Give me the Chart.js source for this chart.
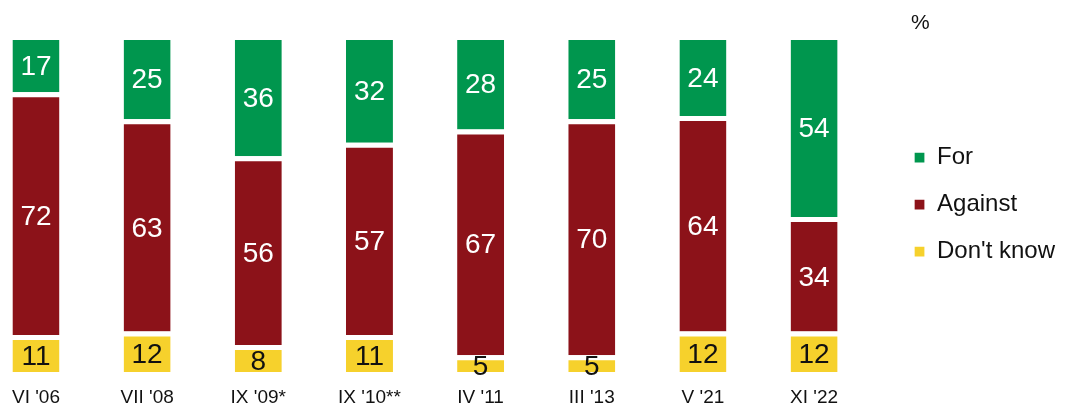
<!DOCTYPE html>
<html>
<head>
<meta charset="utf-8">
<script src="https://cdn.jsdelivr.net/npm/chart.js@4.4.1/dist/chart.umd.min.js"></script>
<style>
  body { margin: 0; background: #fff; }
  #wrap { position: relative; width: 1065px; height: 409px; }
</style>
</head>
<body>
<div id="wrap"><canvas id="chart"></canvas></div>
<script>
const categories = ["VI '06", "VII '08", "IX '09*", "IX '10**", "IV '11", "III '13", "V '21", "XI '22"];
const forValues = [17, 25, 36, 32, 28, 25, 24, 54];
const againstValues = [72, 63, 56, 57, 67, 70, 64, 34];
const dontKnowValues = [11, 12, 8, 11, 5, 5, 12, 12];

const FONT = "'Liberation Sans', Arial, sans-serif";
const toPoints = arr => arr.map((v, i) => ({ x: i, y: v }));

// value labels inside each segment, plus the "%" note
const barLabels = {
  id: 'barLabels',
  afterDatasetsDraw(chart) {
    const ctx = chart.ctx;
    ctx.save();
    ctx.font = '28px ' + FONT;
    ctx.textAlign = 'center';
    ctx.textBaseline = 'middle';
    chart.data.datasets.forEach((ds, i) => {
      const meta = chart.getDatasetMeta(i);
      meta.data.forEach((el, j) => {
        const yMid = (el.y + 5 + el.base) / 2;
        ctx.fillStyle = ds.labelColor;
        ctx.fillText(String(ds.data[j].y), el.x, yMid + 1);
      });
    });
    ctx.fillStyle = '#111';
    ctx.font = '21px ' + FONT;
    ctx.textAlign = 'left';
    ctx.fillText('%', 911, 23);
    ctx.restore();
  }
};

new Chart(document.getElementById('chart'), {
  type: 'bar',
  data: {
    datasets: [
      { label: "Don't know", data: toPoints(dontKnowValues), backgroundColor: '#f6d12c', labelColor: '#111' },
      { label: 'Against', data: toPoints(againstValues), backgroundColor: '#8c1219', labelColor: '#fff' },
      { label: 'For', data: toPoints(forValues), backgroundColor: '#00964e', labelColor: '#fff' }
    ]
  },
  options: {
    responsive: true,
    maintainAspectRatio: false,
    animation: false,
    layout: { padding: 0 },
    datasets: {
      bar: {
        barThickness: 47,
        borderColor: '#fff',
        borderWidth: { top: 5, left: 0, right: 0, bottom: 0 },
        borderSkipped: false,
        inflateAmount: 0,
        clip: false
      }
    },
    plugins: {
      tooltip: { enabled: false },
      legend: {
        position: 'right',
        reverse: true,
        labels: {
          boxWidth: 11,
          boxHeight: 11,
          padding: 23,
          color: '#111',
          font: { family: FONT, size: 24 }
        }
      }
    },
    scales: {
      x: {
        type: 'linear',
        stacked: true,
        offset: false,
        min: -0.3235,
        max: 7.692,
        grid: { display: false, drawTicks: false, offset: false },
        border: { display: false },
        afterBuildTicks: s => { s.ticks = categories.map((_, i) => ({ value: i })); },
        afterFit: s => { s.height = 37; s.paddingLeft = 0; s.paddingRight = 0; },
        ticks: {
          padding: 14,
          color: '#111',
          font: { family: FONT, size: 19 },
          maxRotation: 0,
          autoSkip: false,
          callback: v => categories[v]
        }
      },
      y: {
        stacked: true,
        display: false,
        min: 0,
        max: 110.4
      }
    }
  },
  plugins: [barLabels]
});
</script>
</body>
</html>
